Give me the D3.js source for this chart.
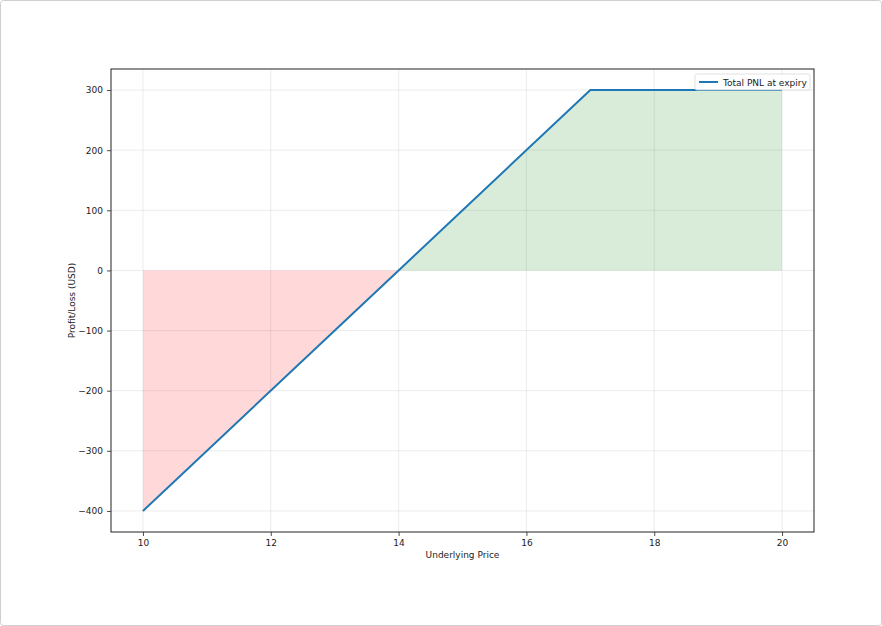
<!DOCTYPE html>
<html><head><meta charset="utf-8">
<script src="https://cdn.jsdelivr.net/npm/d3@7"></script>
<style>html,body{margin:0;padding:0;background:#fff;}svg{display:block;}</style>
</head><body>
<svg id="c" width="882" height="626"></svg>
<script>
const prices = [10, 14, 17, 20];
const pnl = [-400, 0, 300, 300];
const xTicks = [10, 12, 14, 16, 18, 20];
const yTicks = [-400, -300, -200, -100, 0, 100, 200, 300];
const seriesName = "Total PNL at expiry";
const xLabel = "Underlying Price";
const yLabel = "Profit/Loss (USD)";

const svg = d3.select("#c");
const font = "DejaVu Sans, sans-serif";
svg.append("rect").attr("x",0.5).attr("y",0.5).attr("width",881).attr("height",625)
  .attr("rx",3).attr("fill","#fff").attr("stroke","#cfcfcf");

const L=111, R=814, T=69, B=532;
const x = d3.scaleLinear().domain([9.5, 20.5]).range([L, R]);
const y = d3.scaleLinear().domain([-435, 335]).range([B, T]);

// grid
const g = svg.append("g");
g.selectAll(".gx").data(xTicks).join("line").attr("x1",d=>x(d)).attr("x2",d=>x(d))
  .attr("y1",T).attr("y2",B).attr("stroke","#b0b0b0").attr("stroke-opacity",0.3).attr("stroke-width",0.8);
g.selectAll(".gy").data(yTicks).join("line").attr("y1",d=>y(d)).attr("y2",d=>y(d))
  .attr("x1",L).attr("x2",R).attr("stroke","#b0b0b0").attr("stroke-opacity",0.3).attr("stroke-width",0.8);

const pts = prices.map((p,i)=>({x:p, y:pnl[i]}));
// fills
const area = d3.area().x(d=>x(d.x)).y0(y(0)).y1(d=>y(d.y));
const neg = pts.filter(d=>d.y<=0);
const pos = pts.filter(d=>d.y>=0);
svg.append("path").datum(neg).attr("d",area).attr("fill","red").attr("fill-opacity",0.15);
svg.append("path").datum(pos).attr("d",area).attr("fill","green").attr("fill-opacity",0.15);

// line
svg.append("path").datum(pts).attr("d",d3.line().x(d=>x(d.x)).y(d=>y(d.y)))
  .attr("fill","none").attr("stroke","#1f77b4").attr("stroke-width",2);

// axes
const fmt = d=> d<0 ? "\u2212"+Math.abs(d) : String(d);
const xa = svg.append("g").attr("transform",`translate(0,${B})`)
  .call(d3.axisBottom(x).tickValues(xTicks).tickSize(4).tickPadding(4).tickFormat(fmt));
const ya = svg.append("g").attr("transform",`translate(${L},0)`)
  .call(d3.axisLeft(y).tickValues(yTicks).tickSize(4).tickPadding(4).tickFormat(fmt));
[xa,ya].forEach(a=>{
  a.select(".domain").remove();
  a.selectAll("text").attr("font-family",font).attr("font-size",9).attr("fill","#222");
  a.selectAll("line").attr("stroke","#222").attr("stroke-width",0.8);
});
svg.append("rect").attr("x",L).attr("y",T).attr("width",R-L).attr("height",B-T)
  .attr("fill","none").attr("stroke","#222").attr("stroke-width",1);

svg.append("text").attr("x",(L+R)/2).attr("y",558).attr("text-anchor","middle")
  .attr("font-family",font).attr("font-size",9).attr("fill","#222").text(xLabel);
svg.append("text").attr("transform",`translate(75,${(T+B)/2}) rotate(-90)`).attr("text-anchor","middle")
  .attr("font-family",font).attr("font-size",9).attr("fill","#222").text(yLabel);

// legend
const lg = svg.append("g");
lg.append("rect").attr("x",695).attr("y",74).attr("width",115).attr("height",16).attr("rx",2)
  .attr("fill","#fff").attr("fill-opacity",0.8).attr("stroke","#d9d9d9").attr("stroke-width",0.8);
lg.append("line").attr("x1",699).attr("x2",718).attr("y1",82).attr("y2",82)
  .attr("stroke","#1f77b4").attr("stroke-width",2);
lg.append("text").attr("x",723).attr("y",85.5).attr("font-family",font).attr("font-size",9)
  .attr("fill","#222").text(seriesName);
</script>
</body></html>
